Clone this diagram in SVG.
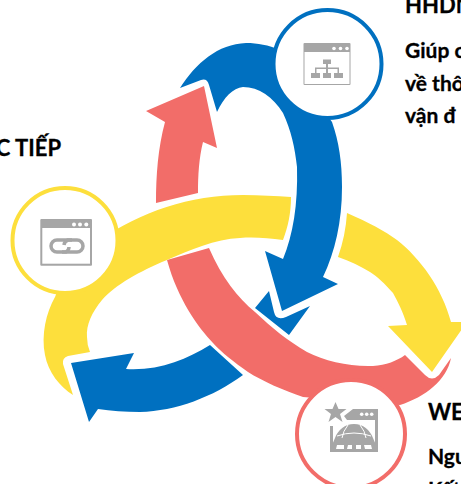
<svg xmlns="http://www.w3.org/2000/svg" width="461" height="484" viewBox="0 0 461 484">
<style>
.b{fill:#0070c0}.y{fill:#fddf3c}.p{fill:#f26d69}
.g{fill:#a6a6a6}.w{fill:#fff}.ring{fill:#fff;stroke-width:4}
.l{fill:none;stroke:#a6a6a6;stroke-width:3.500}
.t{font-family:"Lato","Liberation Sans",sans-serif;font-weight:700;fill:#000;stroke:#000;stroke-width:.3}
.h{font-size:22px}.d{font-size:21px}
</style>
<rect width="461" height="484" fill="#fff"/>
<g id="connectors">
<path id="blue-main" class="b" d="M180 88C196 63 218 44 246 43C258 43 268 45 280 50L332 122C339 142 342 162 342 187C342 222 335 252 323 277L338 284L282 311L265 251L283 259C293 235 298 205 297 167C295 148 291 130 283 113C273 97 259 87 243 87C233 88 224 97 217 112L209 85Q207 78 201 80Z"/>
<path id="blue-head-back" class="b" d="M269 291L255 308L289 335L310 306L286 317Q276 321 274 312Z"/>
<path id="blue-lower" class="b" d="M210 345L243 375C213 397 176 411 140 412C125 412 111 411 98 409L89 422L71 363L134 353L126 369C158 371 186 360 210 345Z"/>
<path id="pink-head" class="p" d="M204 86L146 111L165 122C158 148 156 175 156 203L198 193C198 175 199 158 203 142L217 148Z"/>
<path id="pink-main" class="p" d="M167 260L209 248C222 278 238 298 255 312C272 328 288 341 307 352C325 361 350 367 373 366C386 365 397 361 405 355L425 375Q432 382 439 375L451 358C447 380 425 397 400 405L303 397C285 391 262 381 248 372C234 362 222 353 213 343C198 327 178 300 167 260Z"/>
<path id="yellow-main" class="y" d="M100 240C140 212 190 195 243 195C260 195 276 196 291 197C291 213 288 227 283 240C268 238 254 237 240 238C215 239 190 250 167 260C140 271 115 285 102 300C92 312 86 325 87 337Q87 345 90 352L68 356Q62 358 63 364L73 395C60 387 48 372 45 355C41 335 46 313 55 297L70 260Z"/>
<path id="yellow-right" class="y" d="M347 213C368 222 385 231 397 240C420 258 442 288 451 322L467 322L432 372L388 326L407 325C403 312 398 302 393 293C384 283 378 277 370 272C360 266 350 261 338 257C343 243 346 228 347 213Z"/>
</g>
<g id="node-hhdn">
<circle class="ring" cx="327.500" cy="64" r="54" stroke="#0070c0"/>
<rect class="g" x="303.500" y="43" width="47" height="42" rx="1"/>
<rect class="w" x="304.500" y="52" width="45" height="32"/>
<g class="w"><circle cx="334" cy="48.500" r="1.800"/><circle cx="340.500" cy="48.500" r="1.800"/><circle cx="347" cy="48.500" r="1.800"/></g>
<path class="g" d="M323 59.500H331V64H328V67.500H339V73H343V78H334V73H337.500V69H328V73H331V78H323V73H326V69H316.500V73H320V78H311V73H315V67.500H326V64H323Z"/>
<text class="t h" x="405" y="13">HHDN</text>
<text class="t d" x="405" y="58">Giúp c</text>
<text class="t d" x="405" y="91">về thô</text>
<text class="t d" x="405" y="123">vận đ</text>
</g>
<g id="node-link">
<circle class="ring" cx="65" cy="240.500" r="52.500" stroke="#fddf3c"/>
<rect class="g" x="40.300" y="219" width="51.700" height="46.700" rx="1"/>
<rect class="w" x="42.300" y="228" width="47.700" height="35.700"/>
<g class="w"><circle cx="74" cy="224.500" r="2"/><circle cx="80" cy="224.500" r="2"/><circle cx="86.300" cy="224.500" r="2"/></g>
<path class="l" d="M72 240H57A6 6 0 0 0 57 252H66A6 6 0 0 0 69 247"/>
<path class="l" d="M62 252H77A6 6 0 0 0 77 240H68A6 6 0 0 0 64 245"/>
<text class="t h" x="61" y="156" text-anchor="end">C TIẾP</text>
</g>
<g id="node-web">
<circle class="ring" cx="351" cy="434" r="54" stroke="#f26d69"/>
<path class="g" d="M344 416L353 409H378V452H330V426H333V449H375V420H347Z"/>
<polygon class="g" points="335.500,402 338.500,409 346.500,409 340,414 342.500,422 335.500,417 328.500,422 331,414 324.500,409 332.500,409"/>
<g class="w"><circle cx="361.700" cy="414.300" r="1.800"/><circle cx="366.700" cy="414.300" r="1.800"/><circle cx="371.700" cy="414.300" r="1.800"/></g>
<path class="g" d="M335 438C338 430 345 424 354 424C363 424 370 430 373 438L376 445H332Z"/>
<path d="M337 436Q354 430 371 436M348 425Q343 431 342 438M360 425Q365 431 366 438" fill="none" stroke="#fff" stroke-width="1"/>
<path class="g" d="M333 444H375V450H333Z"/>
<path class="w" d="M337 445H344V449H336ZM348 445H352V449H347ZM356 445H361V449H356ZM364 445H371L372 449H365Z"/>
<text class="t h" x="428" y="420">WEB</text>
<text class="t d" x="428" y="464">Ngu</text>
<text class="t d" x="428" y="497">Kết</text>
</g>
</svg>
